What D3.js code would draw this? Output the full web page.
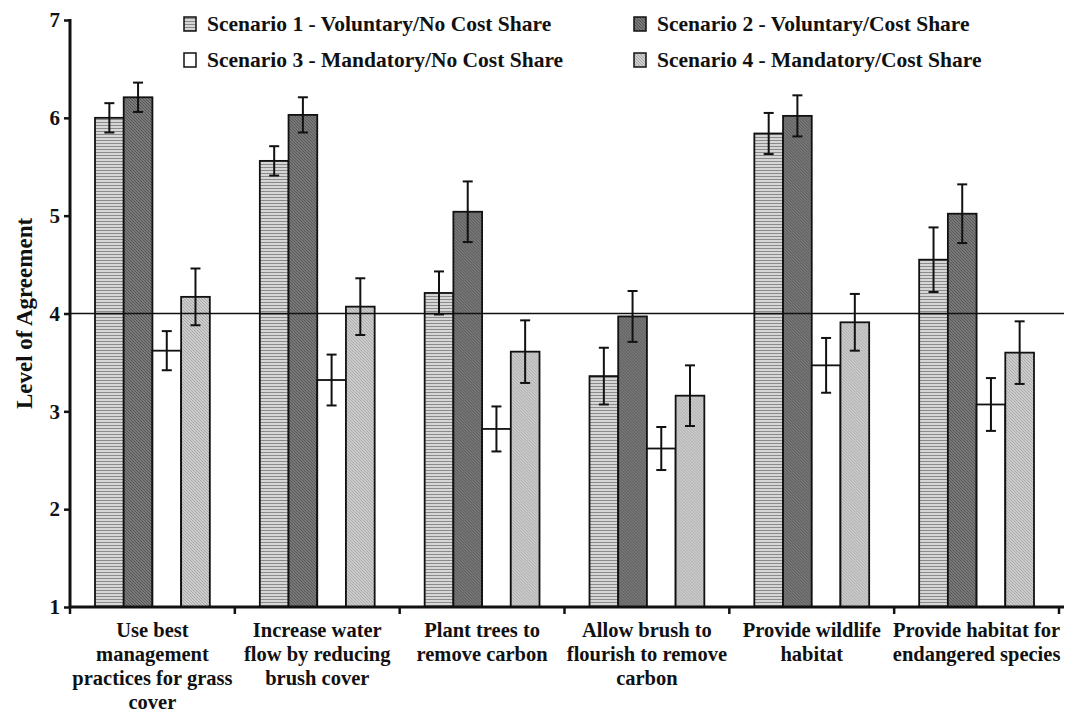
<!DOCTYPE html>
<html>
<head>
<meta charset="utf-8">
<script src="https://cdn.jsdelivr.net/npm/d3@7"></script>
<style>
  body { margin: 0; background: #fff; }
  text { font-family: "Liberation Serif", "Times New Roman", serif; font-weight: bold; fill: #111; }
</style>
</head>
<body>
<svg class="chart"></svg>
<script>
// categories and series
var categories = [
  "Use best management practices for grass cover",
  "Increase water flow by reducing brush cover",
  "Plant trees to remove carbon",
  "Allow brush to flourish to remove carbon",
  "Provide wildlife habitat",
  "Provide habitat for endangered species"
];
var catLines = [
  ["Use best", "management", "practices for grass", "cover"],
  ["Increase water", "flow by reducing", "brush cover"],
  ["Plant trees to", "remove carbon"],
  ["Allow brush to", "flourish to remove", "carbon"],
  ["Provide wildlife", "habitat"],
  ["Provide habitat for", "endangered species"]
];
var seriesNames = [
  "Scenario 1 - Voluntary/No Cost Share",
  "Scenario 2 - Voluntary/Cost Share",
  "Scenario 3 - Mandatory/No Cost Share",
  "Scenario 4 - Mandatory/Cost Share"
];
var s1 = [6.00, 5.56, 4.21, 3.36, 5.84, 4.55];
var s2 = [6.21, 6.03, 5.04, 3.97, 6.02, 5.02];
var s3 = [3.62, 3.32, 2.82, 2.62, 3.47, 3.07];
var s4 = [4.17, 4.07, 3.61, 3.16, 3.91, 3.60];
var e1 = [0.15, 0.15, 0.22, 0.29, 0.21, 0.33];
var e2 = [0.15, 0.18, 0.31, 0.26, 0.21, 0.30];
var e3 = [0.20, 0.26, 0.23, 0.22, 0.28, 0.27];
var e4 = [0.29, 0.29, 0.32, 0.31, 0.29, 0.32];
var yTicks = [1, 2, 3, 4, 5, 6, 7];
var refLine = 4;

var allVals = [s1, s2, s3, s4];
var allErrs = [e1, e2, e3, e4];

var W = 1067, H = 713;
var margin = {top: 20, right: 8, bottom: 106, left: 70};
var width = W - margin.left - margin.right;
var height = H - margin.top - margin.bottom;

var svg = d3.select(".chart").attr("width", W).attr("height", H);

// patterns
var defs = svg.append("defs");
var p1 = defs.append("pattern").attr("id", "pat1").attr("patternUnits", "userSpaceOnUse")
  .attr("width", 4).attr("height", 3);
p1.append("rect").attr("width", 4).attr("height", 3).attr("fill", "#d6d6d6");
p1.append("rect").attr("width", 4).attr("height", 1).attr("fill", "#8a8a8a");

var p2 = defs.append("pattern").attr("id", "pat2").attr("patternUnits", "userSpaceOnUse")
  .attr("width", 3).attr("height", 3);
p2.append("rect").attr("width", 3).attr("height", 3).attr("fill", "#7a7a7a");
p2.append("path").attr("d", "M0,0 L3,3").attr("stroke", "#555").attr("stroke-width", 1);

var p4 = defs.append("pattern").attr("id", "pat4").attr("patternUnits", "userSpaceOnUse")
  .attr("width", 3).attr("height", 3);
p4.append("rect").attr("width", 3).attr("height", 3).attr("fill", "#cdcdcd");
p4.append("path").attr("d", "M0,0 L3,3").attr("stroke", "#a8a8a8").attr("stroke-width", 1);

var fills = ["url(#pat1)", "url(#pat2)", "#ffffff", "url(#pat4)"];

var chart = svg.append("g").attr("transform", "translate(" + margin.left + "," + margin.top + ")");

var x0 = d3.scaleBand().domain(categories).range([0, width]).padding(0);
var x1 = d3.scaleBand().domain(d3.range(4)).range([25, x0.bandwidth() - 25]).padding(0);
var y = d3.scaleLinear().domain([1, 7]).range([height, 0]);

// bars
var groups = chart.selectAll(".grp").data(categories).enter().append("g")
  .attr("class", "grp")
  .attr("transform", function(d){ return "translate(" + x0(d) + ",0)"; });

groups.each(function(c, ci){
  var g = d3.select(this);
  for (var s = 0; s < 4; s++) {
    var v = allVals[s][ci], e = allErrs[s][ci];
    g.append("rect")
      .attr("x", x1(s)).attr("width", x1.bandwidth())
      .attr("y", y(v)).attr("height", y(1) - y(v))
      .attr("fill", fills[s]).attr("stroke", "#111").attr("stroke-width", 1.8);
    var cx = x1(s) + x1.bandwidth() / 2;
    g.append("line").attr("x1", cx).attr("x2", cx).attr("y1", y(v + e)).attr("y2", y(v - e))
      .attr("stroke", "#111").attr("stroke-width", 2);
    [v + e, v - e].forEach(function(t){
      g.append("line").attr("x1", cx - 5).attr("x2", cx + 5).attr("y1", y(t)).attr("y2", y(t))
        .attr("stroke", "#111").attr("stroke-width", 2);
    });
  }
});

// reference line, drawn over the bars
chart.append("line")
  .attr("x1", 0).attr("x2", width + 5)
  .attr("y1", y(refLine)).attr("y2", y(refLine))
  .attr("stroke", "#111").attr("stroke-width", 1.5);

// y axis
var yAxis = d3.axisLeft(y).tickValues(yTicks).tickFormat(d3.format("d")).tickSize(6).tickPadding(4);
var ya = chart.append("g").attr("class", "y axis").call(yAxis);
ya.select(".domain").attr("stroke", "#111").attr("stroke-width", 3).attr("d", "M0," + (height + 1) + "V-1");
ya.selectAll(".tick line").attr("stroke", "#111").attr("stroke-width", 2.5);
ya.selectAll("text").style("font-size", "21px").style("font-family", "Liberation Serif, serif").style("font-weight", "bold");

// x axis
var xa = chart.append("g").attr("class", "xAxis").attr("transform", "translate(0," + height + ")");
xa.append("line").attr("x1", -1).attr("x2", width + 5).attr("y1", 0).attr("y2", 0)
  .attr("stroke", "#111").attr("stroke-width", 3);
xa.selectAll(".xt").data(categories.concat(["end"])).enter().append("line")
  .attr("x1", function(d, i){ return i < categories.length ? x0(d) : width; })
  .attr("x2", function(d, i){ return i < categories.length ? x0(d) : width; })
  .attr("y1", 0).attr("y2", 7).attr("stroke", "#111").attr("stroke-width", 2.5);

var labels = xa.selectAll(".xl").data(categories).enter().append("text")
  .attr("class", "xl")
  .attr("text-anchor", "middle")
  .style("font-size", "20.5px")
  .attr("transform", function(d){ return "translate(" + (x0(d) + x0.bandwidth() / 2) + ",30)"; });
labels.each(function(d, i){
  var t = d3.select(this);
  catLines[i].forEach(function(line, j){
    t.append("tspan").attr("x", 0).attr("y", j * 24).text(line);
  });
});

// y label
chart.append("text")
  .attr("transform", "translate(-38," + (height / 2) + ") rotate(-90)")
  .attr("text-anchor", "middle")
  .style("font-size", "23px")
  .text("Level of Agreement");

// legend
var legPos = [[184, 24], [634, 24], [184, 60], [634, 60]];
var leg = svg.append("g");
seriesNames.forEach(function(n, i){
  var g = leg.append("g").attr("transform", "translate(" + legPos[i][0] + "," + legPos[i][1] + ")");
  g.append("rect").attr("x", 0).attr("y", -7).attr("width", 12).attr("height", 14)
    .attr("fill", fills[i]).attr("stroke", "#111").attr("stroke-width", 1.5);
  g.append("text").attr("x", 23).attr("y", 7).style("font-size", "21.5px").text(n);
});
</script>
</body>
</html>
